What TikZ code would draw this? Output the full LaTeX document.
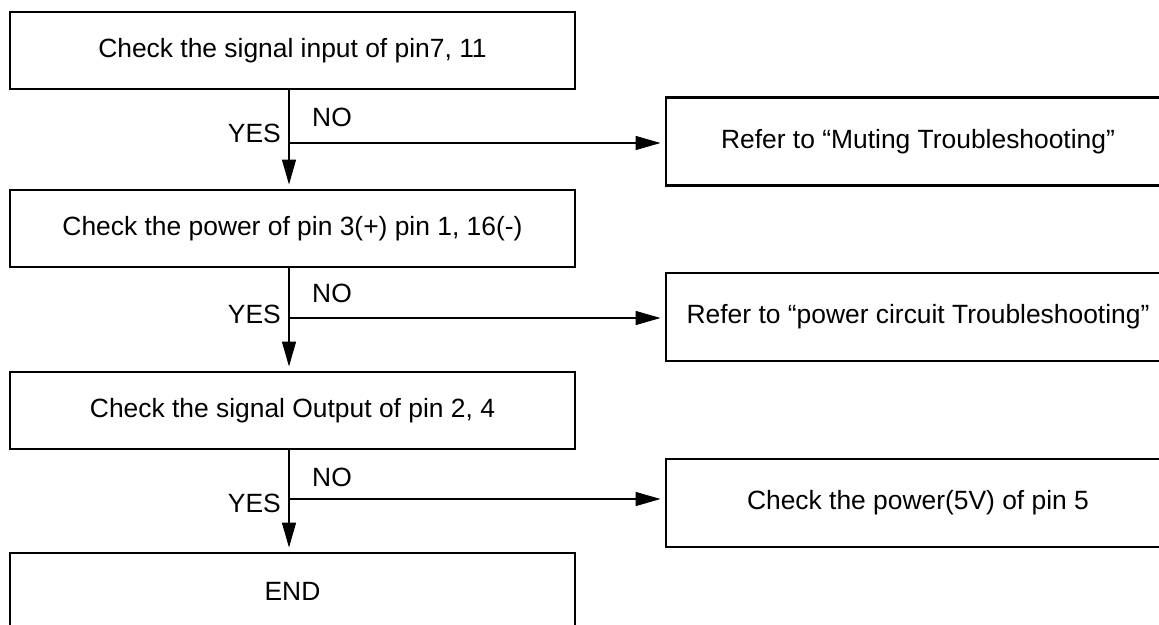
\documentclass[tikz,border=0pt]{standalone}
\usepackage{fontspec}
\setmainfont{Liberation Sans}
\usetikzlibrary{arrows.meta,calc}

\tikzset{
  stepbox/.style={draw=black, line width=2.9pt, rectangle, inner sep=0pt,
                  font=\fontsize{26.4}{30}\selectfont},
  leftbox/.style={stepbox, minimum width=565pt, minimum height=77pt},
  rightbox/.style={stepbox, minimum width=504pt, minimum height=88pt},
  flow/.style={draw=black, line width=1.3pt,
               -{Triangle[length=25pt,width=14pt]}, shorten >=4pt},
  lbl/.style={inner sep=0pt, font=\fontsize{26.4}{30}\selectfont}
}

\begin{document}
\begin{tikzpicture}[x=1pt, y=-1pt]
  \useasboundingbox (0,0) rectangle (1159,624);
  \clip (0,0) rectangle (1159,624);

  % main column of checks
  \node[leftbox] (c1) at (292.5,50.5)  {Check the signal input of pin7, 11};
  \node[leftbox] (c2) at (292.5,228.5) {Check the power of pin 3(+) pin 1, 16(-)};
  \node[leftbox] (c3) at (292.5,410.5) {Check the signal Output of pin 2, 4};
  \node[leftbox] (c4) at (292.5,591.5) {END};

  % actions taken on a failed check
  \node[rightbox] (r1) at (918,141.5) {Refer to “Muting Troubleshooting”};
  \node[rightbox] (r2) at (918,317)   {Refer to “power circuit Troubleshooting”};
  \node[rightbox] (r3) at (918,503)   {Check the power(5V) of pin 5};

  % branch points on the vertical flow line
  \coordinate (b1) at (289,143);
  \coordinate (b2) at (289,318);
  \coordinate (b3) at (289,499);

  % YES path downward
  \draw[flow] (c1.south -| b1) -- (c2.north -| b1);
  \draw[flow] (c2.south -| b2) -- (c3.north -| b2);
  \draw[flow] (c3.south -| b3) -- (c4.north -| b3);

  % NO path to the right
  \draw[flow] (b1) -- (b1 -| r1.west);
  \draw[flow] (b2) -- (b2 -| r2.west);
  \draw[flow] (b3) -- (b3 -| r3.west);

  % branch labels
  \node[lbl, anchor=base east] (y1) at ($(b1)+(-8,-1)$)  {YES};
  \node[lbl, anchor=base west] (n1) at ($(b1)+(23,-17)$) {NO};
  \node[lbl, anchor=base east] (y2) at ($(b2)+(-8,5)$)   {YES};
  \node[lbl, anchor=base west] (n2) at ($(b2)+(23,-16)$) {NO};
  \node[lbl, anchor=base east] (y3) at ($(b3)+(-8,13)$)  {YES};
  \node[lbl, anchor=base west] (n3) at ($(b3)+(23,-13)$) {NO};
\end{tikzpicture}
\end{document}
